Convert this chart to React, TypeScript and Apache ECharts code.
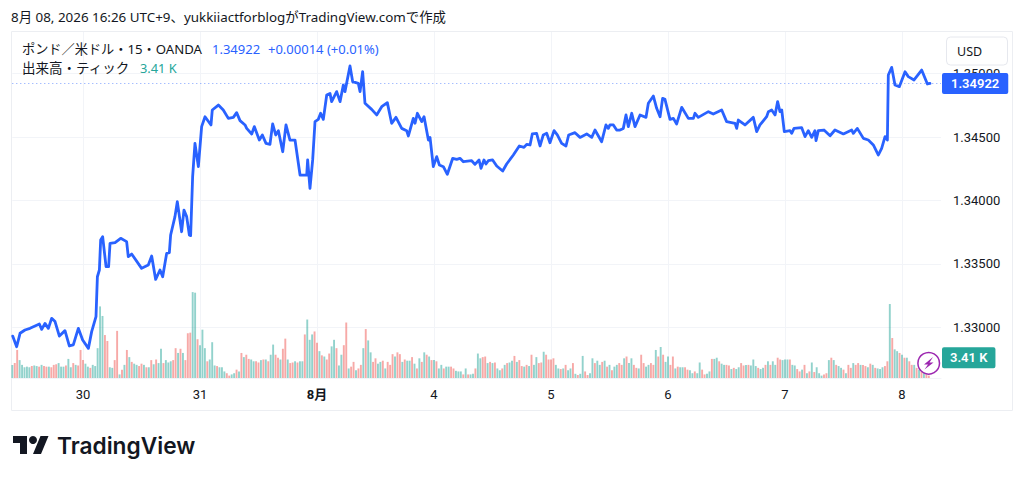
import React, { useEffect, useRef } from "react";
import * as echarts from "echarts";

const dayLabels = ["30", "31", "8月", "4", "5", "6", "7", "8"];
const lastPrice = 1.34922;
const lastVolume = 3.41;

// Blue line: time in days counted from the "30" tick, and price.
const lineDays = [
  -0.601,-0.567,-0.538,-0.496,-0.453,-0.410,-0.373,-0.353,-0.325,-0.296,-0.268,-0.239,-0.202,-0.154,-0.117,-0.083,-0.040,-0.003,
  0.046,0.074,0.111,0.123,0.140,0.151,0.168,0.197,0.219,0.231,0.274,0.322,0.373,0.387,0.416,0.501,0.558,0.587,0.621,0.658,0.681,0.715,0.738,0.749,0.786,0.806,0.843,0.863,0.886,0.909,0.920,0.937,0.957,0.986,
  1.014,1.043,1.094,1.105,1.157,1.199,1.242,1.285,1.313,1.342,1.385,1.399,1.442,1.464,1.507,1.533,1.564,1.598,1.621,1.647,1.670,1.707,1.735,1.769,1.812,1.855,1.912,1.920,1.940,1.963,1.983,
  2.011,2.031,2.054,2.083,2.111,2.125,2.168,2.197,2.225,2.239,2.282,2.305,2.353,2.368,2.390,2.410,2.467,2.510,2.553,2.601,2.638,2.675,2.724,2.766,2.781,2.823,2.838,2.858,2.895,2.915,2.952,2.966,2.994,
  3.023,3.046,3.080,3.114,3.160,3.194,3.222,3.251,3.322,3.350,3.385,3.402,3.427,3.444,3.464,3.501,3.536,3.587,3.621,3.678,3.729,3.769,3.792,3.821,3.840,3.877,3.906,3.934,3.963,3.991,
  4.026,4.054,4.091,4.128,4.151,4.205,4.248,4.305,4.348,4.376,4.433,4.470,4.490,4.504,4.533,4.561,4.590,4.618,4.641,4.661,4.690,4.718,4.761,4.812,4.832,4.875,4.903,4.932,4.954,4.974,
  5.017,5.046,5.074,5.117,5.174,5.217,5.231,5.259,5.345,5.387,5.459,5.501,5.573,5.587,5.601,5.658,5.729,5.758,5.786,5.843,5.858,5.886,5.915,5.937,5.957,5.972,5.994,
  6.043,6.057,6.077,6.142,6.171,6.199,6.228,6.256,6.265,6.285,6.333,6.385,6.427,6.499,6.570,6.584,6.618,6.670,6.712,6.755,6.798,6.826,6.855,6.875,6.883,6.912,6.940,6.977,
  7.026,7.054,7.103,7.168,7.217,7.239,
];
const linePrices = [
  1.32930,1.32846,1.32952,1.32978,1.32991,1.33009,1.33025,1.32983,1.33030,1.32991,1.33070,1.33044,1.32930,1.32973,1.32852,1.32860,1.32991,1.32899,
  1.32833,1.32965,1.33083,1.33398,1.33451,1.33688,1.33714,1.33477,1.33477,1.33661,1.33667,1.33701,1.33675,1.33556,1.33577,1.33464,1.33490,1.33561,1.33377,1.33451,1.33398,1.33582,1.33588,1.33727,1.33872,1.33990,1.33753,1.33924,1.33872,1.33727,1.33722,1.34187,1.34450,1.34266,
  1.34582,1.34660,1.34595,1.34713,1.34752,1.34713,1.34647,1.34655,1.34692,1.34629,1.34595,1.34568,1.34524,1.34582,1.34476,1.34516,1.34450,1.34442,1.34603,1.34516,1.34550,1.34384,1.34595,1.34476,1.34476,1.34200,1.34200,1.34319,1.34095,1.34319,1.34621,
  1.34639,1.34687,1.34639,1.34831,1.34844,1.34779,1.34858,1.34779,1.34910,1.34858,1.35060,1.34936,1.34923,1.34858,1.35015,1.34766,1.34718,1.34674,1.34739,1.34771,1.34608,1.34655,1.34568,1.34550,1.34508,1.34647,1.34608,1.34687,1.34621,1.34660,1.34476,1.34497,1.34266,
  1.34345,1.34279,1.34266,1.34206,1.34332,1.34324,1.34332,1.34305,1.34313,1.34284,1.34319,1.34253,1.34319,1.34287,1.34313,1.34319,1.34271,1.34232,1.34287,1.34358,1.34429,1.34418,1.34442,1.34437,1.34524,1.34529,1.34429,1.34516,1.34529,1.34455,
  1.34550,1.34516,1.34450,1.34429,1.34516,1.34534,1.34497,1.34524,1.34497,1.34555,1.34463,1.34595,1.34568,1.34595,1.34595,1.34555,1.34555,1.34568,1.34674,1.34582,1.34687,1.34582,1.34674,1.34655,1.34766,1.34823,1.34726,1.34660,1.34805,1.34797,
  1.34639,1.34647,1.34603,1.34734,1.34647,1.34647,1.34687,1.34655,1.34700,1.34681,1.34713,1.34621,1.34608,1.34568,1.34634,1.34595,1.34655,1.34542,1.34595,1.34660,1.34700,1.34713,1.34674,1.34779,1.34700,1.34713,1.34542,
  1.34550,1.34529,1.34568,1.34574,1.34503,1.34550,1.34497,1.34550,1.34471,1.34550,1.34555,1.34510,1.34555,1.34524,1.34555,1.34529,1.34568,1.34489,1.34476,1.34437,1.34358,1.34411,1.34503,1.34476,1.34989,1.35049,1.34910,1.34897,
  1.35015,1.34976,1.34950,1.35028,1.34918,1.34922,
];

// Volume in thousands, half-hour samples, grouped by day.
const volBefore = [
  2.2,2.5,4.7,3.0,2.2,1.8,1.9,1.8,2.0,2.1,2.0,1.9,
  2.2,2.0,1.9,1.9,1.8,2.2,2.3,2.5,1.9,1.9,2.1,3.2,
  1.8,2.5,2.2,2.1,4.7,
];
const vol30 = [
  3.0,2.4,1.9,1.7,2.2,2.0,5.0,12.0,10.4,7.2,6.2,1.8,
  1.7,3.0,7.9,0.6,1.4,2.2,4.7,3.5,2.7,2.4,2.2,2.0,
  2.4,2.2,1.8,1.8,3.0,2.3,3.1,2.5,4.9,2.5,3.0,2.6,
  2.8,3.0,5.0,4.2,4.9,4.2,3.0,7.5,7.6,14.4,14.3,6.5,
];
const vol31 = [
  5.5,8.1,5.0,2.8,3.1,6.0,2.1,2.0,1.8,1.8,1.1,0.8,
  0.4,0.6,0.8,1.4,1.1,4.2,3.5,3.9,3.2,3.1,2.8,2.8,
  2.6,3.0,3.1,3.1,2.8,3.9,5.6,3.9,3.4,3.1,4.9,6.6,
  3.1,2.5,2.6,2.8,2.6,2.8,2.8,7.3,9.8,6.4,7.3,7.8,
];
const volAug1 = [
  5.9,4.5,3.8,3.6,3.1,4.1,5.3,6.4,5.0,2.1,3.9,5.5,
  9.3,1.6,1.9,2.7,1.3,1.6,2.2,5.0,8.2,6.3,4.3,2.7,
  3.3,2.4,2.7,2.9,1.6,2.7,2.2,4.0,3.6,4.3,4.0,2.7,
  3.1,2.9,2.9,3.5,2.4,1.6,3.3,2.7,4.3,3.9,3.6,3.0,
];
const volAug4 = [
  3.0,2.8,1.6,2.2,1.6,1.9,1.9,1.9,1.6,1.2,1.1,1.1,
  0.6,1.6,0.6,0.6,0.7,1.6,4.1,3.3,3.5,3.6,2.5,2.7,
  2.5,2.6,1.6,1.3,1.6,2.2,2.5,2.6,2.9,3.7,2.7,3.0,
  2.0,1.9,2.2,2.0,3.9,2.2,3.5,2.5,2.6,4.4,3.9,3.1,
];
const volAug5 = [
  3.1,3.3,2.2,1.6,1.5,1.6,2.2,1.3,1.6,2.5,0.7,0.5,
  0.7,3.7,1.1,0.5,0.8,3.3,2.5,2.9,2.2,2.7,2.9,1.9,
  2.2,1.3,1.9,2.2,2.5,2.2,3.3,3.6,2.5,3.3,2.2,1.7,
  1.6,3.9,2.5,1.9,2.2,2.5,2.2,4.7,3.6,5.2,3.9,2.7,
];
const volAug6 = [
  3.6,2.2,3.6,1.6,1.9,1.8,1.8,1.8,1.4,1.3,0.8,1.1,
  0.8,2.6,1.4,0.6,0.7,1.1,3.2,3.2,3.4,2.8,2.4,2.2,
  2.2,2.1,1.5,1.7,1.5,1.8,2.5,2.1,2.2,2.2,2.1,3.1,
  2.0,1.7,1.5,1.7,2.2,2.8,2.2,2.8,2.2,3.4,3.1,3.0,
];
const volAug7 = [
  3.1,3.1,3.1,2.2,2.1,1.5,1.1,1.4,2.2,0.8,1.1,2.6,
  1.0,1.8,0.8,0.4,0.6,0.8,3.0,3.4,3.0,2.2,2.0,1.7,
  1.4,0.8,2.2,1.7,2.5,2.2,2.5,2.2,2.2,2.0,1.8,2.4,
  2.2,1.7,1.6,1.5,1.8,2.0,2.8,12.4,6.7,4.8,4.5,4.2,
];
const volAug8 = [3.9,3.4,3.4,2.8,2.2,2.2,1.7,1.4,1.1,0.8,0.6,0.4];

// G = up bar, R = down bar.
const volDirections = [
  "GRRGGGGGRGGRGRRGRRRGGGRGGRGRR",
  "RGGRGGGGGRRGGRRGRGRGRGGRRGRGRGRGGRGGGRRGRGRRRGGR",
  "GGGRGGGRGGGRRGGRGRGRRGGRRGRGRGGRRGRRGRRGRGGRGGGR",
  "RGRGRRGGRGGRRGRRGRRGRGGRRGGRGRRRGRRGRGGRGRGRGRGR",
  "GRGGRGGRRGGGRGRGGRGGRRGRGRGGRGRGGRGRRGRGRGGRRGRR",
  "RRGGRGRGGRGRGGRRGGRGGRGRGRGGRRGRGGRRGRRGGRRGRGRG",
  "GRRGRGGRRGGRGGRRGGRGGRGGRRGRGGRRGRGGGRGGRGRGGRRG",
  "GGRGGRRGRGRGRGGGRRGRGRGGRGRRGRRGRRGRGRGGGRRGRGGR",
  "GRGRRGRGRGRR",
].join("");

const volumes = [...volBefore, ...vol30, ...vol31, ...volAug1, ...volAug4, ...volAug5, ...volAug6, ...volAug7, ...volAug8];

const BARS_BEFORE_FIRST_TICK = 29;
const BARS_PER_DAY = 48;
const CATEGORY_COUNT = 382;
const categories: string[] = [];
for (let i = 0; i < CATEGORY_COUNT; i++) {
  const offset = i - BARS_BEFORE_FIRST_TICK;
  categories.push(offset >= 0 && offset % BARS_PER_DAY === 0 ? dayLabels[offset / BARS_PER_DAY] ?? "" : "");
}

const GREEN = "rgba(38,166,154,0.5)";
const RED = "rgba(239,83,80,0.5)";
const BLUE = "#2962ff";
const TEXT = "#131722";
const GRID = "#f2f4f8";
const SANS = '"Noto Sans","Noto Sans CJK JP",sans-serif';
const AXIS_FONT = 'Roboto,"Noto Sans CJK JP",sans-serif';

echarts.graphic.registerShape(
  "tvmark",
  echarts.graphic.extendPath("M14 22H7V11H0V4h14v18zM28 22h-8l7.5-18h8L28 22z", {}) as any
);

const isTick = (_: number, v: string) => v !== "";

export default function App() {
  const ref = useRef<HTMLDivElement>(null);
  useEffect(() => {
    document.body.style.margin = "0";
    const chart = echarts.init(ref.current!, undefined, { renderer: "svg" });
    const text = (x: number, y: number, t: string, fill: string, fontSize: number, extra: any = {}) => ({
      type: "text",
      x,
      y,
      z: 30,
      style: { text: t, fill, fontSize, fontFamily: SANS, textVerticalAlign: "middle", ...extra },
    });
    chart.setOption({
      animation: false,
      backgroundColor: "#ffffff",
      grid: [
        { left: 12.31, width: 928.69, top: 10.2, height: 380.4 },
        { left: 12.31, width: 928.69, top: 32, height: 346 },
      ],
      xAxis: [
        { type: "value", gridIndex: 0, min: -0.6042, max: 7.3333, show: false },
        {
          type: "category",
          gridIndex: 1,
          data: categories,
          boundaryGap: false,
          axisLine: { show: true, lineStyle: { color: GRID } },
          axisTick: { show: false },
          splitLine: { show: true, interval: isTick, lineStyle: { color: GRID } },
          axisLabel: {
            interval: isTick,
            margin: 10,
            fontSize: 13,
            fontFamily: AXIS_FONT,
            color: TEXT,
            hideOverlap: false,
            formatter: (v: string) => (v === "8月" ? "{b|8月}" : v),
            rich: { b: { fontWeight: 700, fontSize: 13, fontFamily: AXIS_FONT, color: TEXT } },
          },
        },
      ],
      yAxis: [
        {
          type: "value",
          gridIndex: 0,
          position: "right",
          min: 1.325,
          max: 1.355,
          interval: 0.005,
          axisLine: { show: false },
          axisTick: { show: false },
          splitLine: { show: true, showMinLine: false, showMaxLine: false, lineStyle: { color: GRID } },
          axisLabel: {
            showMinLabel: false,
            showMaxLabel: false,
            margin: 12,
            fontSize: 13,
            fontFamily: AXIS_FONT,
            color: TEXT,
            formatter: (v: number) => v.toFixed(5),
          },
        },
        { type: "value", gridIndex: 1, min: 0, max: 58, show: false },
      ],
      series: [
        {
          type: "bar",
          xAxisIndex: 1,
          yAxisIndex: 1,
          barWidth: 1.9,
          silent: true,
          z: 2,
          data: volumes.map((v, i) => ({
            value: v,
            itemStyle: { color: volDirections[i] === "R" ? RED : GREEN },
          })),
          markLine: {
            silent: true,
            symbol: "none",
            precision: 2,
            z: 20,
            lineStyle: { width: 1, color: "rgba(0,0,0,0)" },
            label: {
              show: true,
              position: "end",
              distance: 1,
              formatter: () => `${lastVolume.toFixed(2)} K`,
              color: "#fff",
              backgroundColor: "#26a69a",
              borderRadius: 2,
              padding: [4, 8, 4, 8],
              fontSize: 13,
              fontWeight: 600,
              fontFamily: AXIS_FONT,
            },
            data: [{ yAxis: lastVolume }],
          },
        },
        {
          type: "line",
          xAxisIndex: 0,
          yAxisIndex: 0,
          z: 5,
          showSymbol: false,
          symbol: "none",
          silent: true,
          lineStyle: { color: BLUE, width: 2.8, join: "round", cap: "round" },
          data: lineDays.map((d, i) => [d, linePrices[i]]),
          markLine: {
            silent: true,
            symbol: "none",
            precision: 5,
            z: 20,
            lineStyle: { color: "rgba(41,98,255,0.6)", width: 1, type: [1, 3] },
            label: {
              show: true,
              position: "end",
              distance: 1,
              formatter: () => lastPrice.toFixed(5),
              color: "#fff",
              backgroundColor: BLUE,
              borderRadius: 2,
              padding: [4, 9, 4, 9],
              fontSize: 13,
              fontWeight: 600,
              fontFamily: AXIS_FONT,
            },
            data: [{ yAxis: lastPrice }],
          },
        },
      ],
      graphic: [
        { type: "rect", z: -1, silent: true, shape: { x: 11.5, y: 31.5, width: 1001, height: 379 }, style: { fill: "none", stroke: "#eceef2", lineWidth: 1 } },
        text(11, 17, "8月 08, 2026 16:26 UTC+9、yukkiiactforblogがTradingView.comで作成", "#131722", 13.4),
        text(22, 49, "ポンド／米ドル・15・OANDA", "#131722", 13.2),
        text(212, 49, "1.34922", BLUE, 13),
        text(268, 49, "+0.00014 (+0.01%)", BLUE, 13),
        text(22, 68, "出来高・ティック", "#131722", 13.5),
        text(140, 68, "3.41 K", "#26a69a", 12.8),
        {
          type: "rect",
          z: 30,
          shape: { x: 946.5, y: 37, width: 61, height: 28, r: 4 },
          style: { fill: "#fff", stroke: "#e6e8ee", lineWidth: 1 },
        },
        text(957, 51, "USD", "#131722", 12.5),
        { type: "circle", z: 30, shape: { cx: 928.7, cy: 363.3, r: 10.8 }, style: { fill: "#fff", stroke: "#9c27b0", lineWidth: 1.5 } },
        {
          type: "polygon",
          z: 31,
          shape: { points: [[933, 357], [924, 364.5], [928, 364.5], [924.5, 369.5], [933.5, 362.5], [929.5, 362.5]] },
          style: { fill: "#9c27b0" },
        },
        { type: "tvmark", z: 30, x: 13, y: 432, style: { fill: "#131722" } },
        { type: "circle", z: 30, shape: { cx: 33, cy: 440, r: 4 }, style: { fill: "#131722" } },
        { type: "text", z: 30, x: 57, y: 445, style: { text: "TradingView", fill: "#131722", fontSize: 22.7, fontWeight: 600, fontFamily: "Inter,sans-serif", textVerticalAlign: "middle" } },
      ],
    });
    return () => chart.dispose();
  }, []);
  return <div ref={ref} style={{ position: "fixed", left: 0, top: 0, width: 1024, height: 480 }} />;
}
